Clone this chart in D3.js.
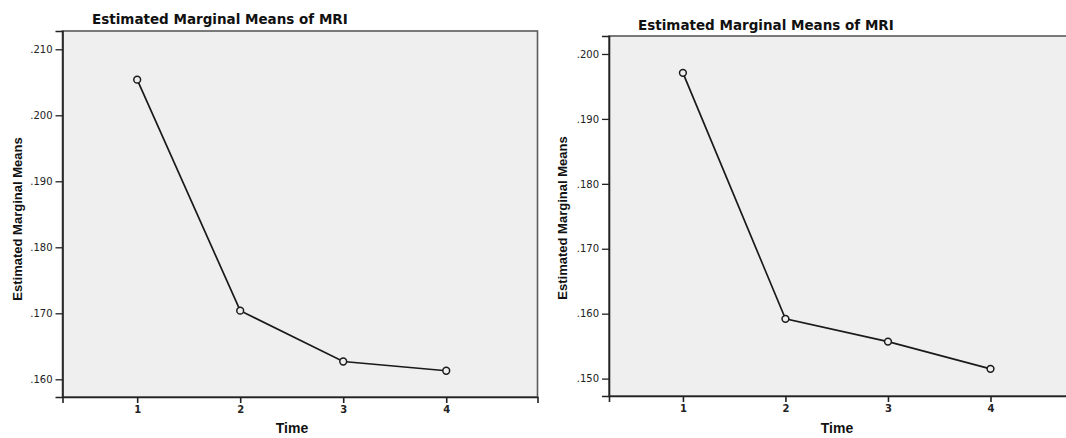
<!DOCTYPE html>
<html>
<head>
<meta charset="utf-8">
<script src="https://cdn.jsdelivr.net/npm/d3@7"></script>
<style>
  html, body { margin: 0; padding: 0; background: #ffffff; }
  svg { display: block; font-family: "Liberation Sans", Arial, sans-serif; }
</style>
</head>
<body>
<svg id="chart" width="1066" height="438"></svg>
<script>
// ---- data ----
const timePoints = [1, 2, 3, 4];
const leftMeans  = [0.2054, 0.1704, 0.1627, 0.1613];
const rightMeans = [0.1971, 0.1592, 0.1557, 0.1515];
const leftYTicks  = [0.160, 0.170, 0.180, 0.190, 0.200, 0.210];
const rightYTicks = [0.150, 0.160, 0.170, 0.180, 0.190, 0.200];
const chartTitle = "Estimated Marginal Means of MRI";
const yAxisTitle = "Estimated Marginal Means";
const xAxisTitle = "Time";

const svg = d3.select("#chart");
const fmt = d => d3.format(".3f")(d).replace(/^0/, "");
const DJ = "'DejaVu Sans', sans-serif";
const LIB = "'Liberation Sans', Arial, sans-serif";

function drawPanel(cfg) {
  const g = svg.append("g");
  const x = d3.scaleLinear().domain(cfg.xDomain).range([cfg.left, cfg.right]);
  const y = d3.scaleLinear().domain(cfg.yDomain).range([cfg.bottom, cfg.top]);

  // plot background + frame
  g.append("rect")
    .attr("x", cfg.left).attr("y", cfg.top)
    .attr("width", cfg.right - cfg.left).attr("height", cfg.bottom - cfg.top)
    .attr("fill", "#efefef").attr("stroke", "#5a5a5a").attr("stroke-width", 1.6);

  // title
  g.append("text")
    .attr("x", cfg.titleX).attr("y", cfg.titleY)
    .style("font-family", DJ).style("font-size", "13.5px").style("font-weight", "bold")
    .style("fill", "#111")
    .text(chartTitle);

  // y axis
  const yAxis = d3.axisLeft(y).tickValues(cfg.yTicks).tickFormat(fmt).tickSize(7).tickPadding(3);
  const ya = g.append("g").attr("transform", `translate(${cfg.left},0)`).call(yAxis);
  ya.select(".domain").attr("stroke", "#222").attr("stroke-width", 1.6);
  ya.selectAll(".tick line").attr("stroke", "#222").attr("stroke-width", 1.3);
  ya.selectAll(".tick text").style("font-family", DJ).style("font-size", "10px").style("fill", "#222");

  // x axis
  const xAxis = d3.axisBottom(x).tickValues(timePoints).tickFormat(d3.format("d")).tickSize(6).tickPadding(3);
  const xa = g.append("g").attr("transform", `translate(0,${cfg.bottom})`).call(xAxis);
  xa.select(".domain").attr("stroke", "#222").attr("stroke-width", 1.6);
  xa.selectAll(".tick line").attr("stroke", "#222").attr("stroke-width", 1.6);
  xa.selectAll(".tick text").style("font-family", DJ).style("font-size", "10px").style("font-weight", "bold").style("fill", "#222");

  // axis titles
  g.append("text")
    .attr("transform", `translate(${cfg.yLabelX},${cfg.yLabelY}) rotate(-90)`)
    .attr("text-anchor", "middle")
    .style("font-family", LIB).style("font-size", "13px").style("font-weight", "bold").style("fill", "#111")
    .text(yAxisTitle);
  g.append("text")
    .attr("x", cfg.xLabelX).attr("y", 433)
    .attr("text-anchor", "middle")
    .style("font-family", LIB).style("font-size", "14px").style("font-weight", "bold").style("fill", "#111")
    .text(xAxisTitle);

  // line + markers
  const pts = timePoints.map((t, i) => [t, cfg.values[i]]);
  g.append("path")
    .datum(pts)
    .attr("fill", "none").attr("stroke", "#1a1a1a").attr("stroke-width", 1.7)
    .attr("d", d3.line().x(d => x(d[0])).y(d => y(d[1])));
  g.selectAll("circle.pt").data(pts).join("circle")
    .attr("class", "pt")
    .attr("cx", d => x(d[0])).attr("cy", d => y(d[1])).attr("r", 3.4)
    .attr("fill", "#efefef").attr("stroke", "#1a1a1a").attr("stroke-width", 1.5);
}

drawPanel({
  left: 62.5, right: 537.5, top: 31, bottom: 397,
  xDomain: [0.275, 4.886], yDomain: [0.15732, 0.21277],
  yTicks: leftYTicks, values: leftMeans,
  titleX: 92, titleY: 24, yLabelX: 22, yLabelY: 219, xLabelX: 292
});

drawPanel({
  left: 609, right: 1092, top: 36, bottom: 396,
  xDomain: [0.279, 4.99], yDomain: [0.14732, 0.20277],
  yTicks: rightYTicks, values: rightMeans,
  titleX: 638, titleY: 30, yLabelX: 567, yLabelY: 218, xLabelX: 837
});
</script>
</body>
</html>
